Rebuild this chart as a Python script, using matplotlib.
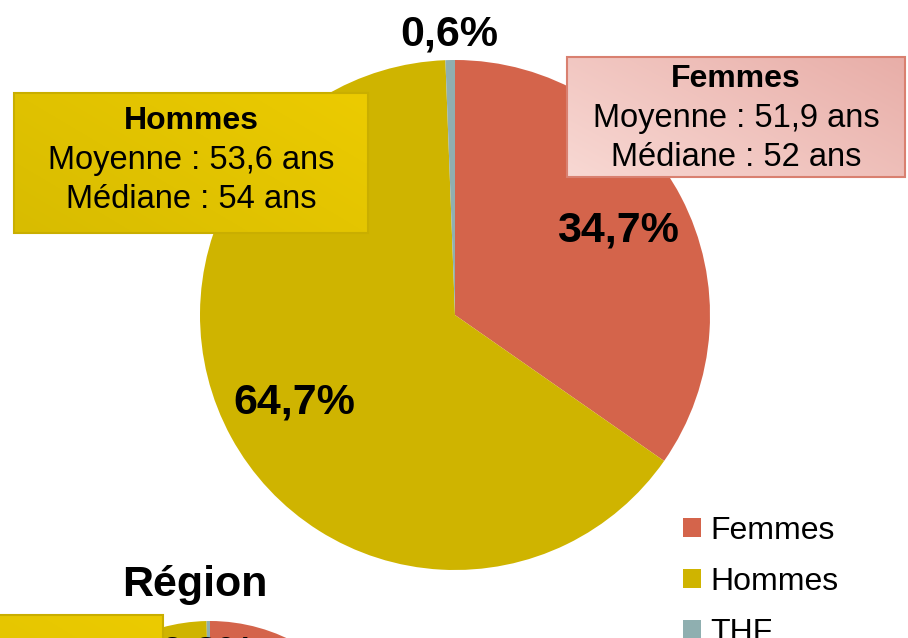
import matplotlib
matplotlib.use("Agg")
import matplotlib.pyplot as plt
import numpy as np
from matplotlib.patches import Rectangle, Patch

plt.rcParams['font.family'] = ['Liberation Sans', 'DejaVu Sans']

categories = ["Femmes", "Hommes", "THF"]
values = [34.7, 64.7, 0.6]
pct_labels = ["34,7%", "64,7%", "0,6%"]
colors = ["#D4644B", "#CFB400", "#8FAFB0"]

box_femmes = ["Femmes", "Moyenne : 51,9 ans", "Médiane : 52 ans"]
box_hommes = ["Hommes", "Moyenne : 53,6 ans", "Médiane : 54 ans"]

region_values = [35.0, 64.7, 0.3]
region_label = "0,3%"

W, H = 908, 638
fig = plt.figure(figsize=(W / 100, H / 100), dpi=100)
ax = fig.add_axes([0, 0, 1, 1])


def py(y):
    return H - y


# main pie
cx, cy, r = 455, py(315), 255
wedges, _ = ax.pie(values, colors=colors, startangle=90, counterclock=False,
                   center=(cx, cy), radius=r, wedgeprops=dict(linewidth=0))
dists = [0.72, 0.72, 1.1]
for w, lab, d in zip(wedges, pct_labels, dists):
    ang = np.deg2rad((w.theta1 + w.theta2) / 2)
    ax.text(cx + d * r * np.cos(ang), cy + d * r * np.sin(ang), lab,
            ha="center", va="center", fontsize=31, fontweight="bold", color="black", zorder=5)

# second (region) pie, mostly cut off
cx2, cy2, r2 = 210, py(801), 180
wedges2, _ = ax.pie(region_values, colors=colors, startangle=90, counterclock=False,
                    center=(cx2, cy2), radius=r2, wedgeprops=dict(linewidth=0))
ax.text(208, py(655), region_label, ha="center", va="center", fontsize=30,
        fontweight="bold", color="black", zorder=5)


def grad_box(x0, y0, x1, y1, c0, c1, edge, zorder=4):
    X0, X1 = x0, x1
    Y0, Y1 = py(y1), py(y0)
    n = 64
    g = np.linspace(0, 1, n)
    gx, gy = np.meshgrid(g, g)
    t = np.clip(0.6 * gx + 0.4 * (1 - gy), 0, 1)
    c0 = np.array(matplotlib.colors.to_rgb(c0))
    c1 = np.array(matplotlib.colors.to_rgb(c1))
    img = c0[None, None, :] * (1 - t[..., None]) + c1[None, None, :] * t[..., None]
    rect = Rectangle((X0, Y0), X1 - X0, Y1 - Y0, facecolor="none", edgecolor=edge,
                     linewidth=1.5, zorder=zorder + 0.1)
    ax.add_patch(rect)
    im = ax.imshow(img, extent=(X0, X1, Y0, Y1), origin="upper", zorder=zorder,
                   aspect="auto", interpolation="bilinear")
    im.set_clip_path(rect)
    return (X0 + X1) / 2


xc = grad_box(567, 57, 905, 177, "#F8D8D3", "#E8AEA8", "#D98070")
ax.text(xc, py(79), box_femmes[0], ha="center", va="center", fontsize=23, fontweight="bold", zorder=6)
ax.text(xc, py(118), box_femmes[1], ha="center", va="center", fontsize=23.5, zorder=6)
ax.text(xc, py(157), box_femmes[2], ha="center", va="center", fontsize=23.5, zorder=6)

xc = grad_box(14, 93, 368, 233, "#D8BC00", "#ECCB00", "#C9AE00")
ax.text(xc, py(121), box_hommes[0], ha="center", va="center", fontsize=23, fontweight="bold", zorder=6)
ax.text(xc, py(161), box_hommes[1], ha="center", va="center", fontsize=23.5, zorder=6)
ax.text(xc, py(200), box_hommes[2], ha="center", va="center", fontsize=23.5, zorder=6)

# partial region box
grad_box(-200, 615, 163, 760, "#D8BC00", "#ECCB00", "#C9AE00")
ax.text(-17, py(648), box_hommes[0], ha="center", va="center", fontsize=23, fontweight="bold", zorder=6)

# Region title
ax.text(195, py(585), "Région", ha="center", va="center", fontsize=31, fontweight="bold", zorder=6)

# legend
handles = [Patch(facecolor=c, edgecolor="none") for c in colors]
leg = ax.legend(handles, categories, loc="upper left", bbox_to_anchor=(683 / W, 1 - 516 / H),
                frameon=False, fontsize=23, handlelength=0.55, handleheight=0.55,
                handletextpad=0.3, labelspacing=0.65, borderaxespad=0, borderpad=0)

ax.set_xlim(0, W)
ax.set_ylim(0, H)
ax.set_aspect("equal")
ax.axis("off")
fig.savefig("out.png", dpi=100)
